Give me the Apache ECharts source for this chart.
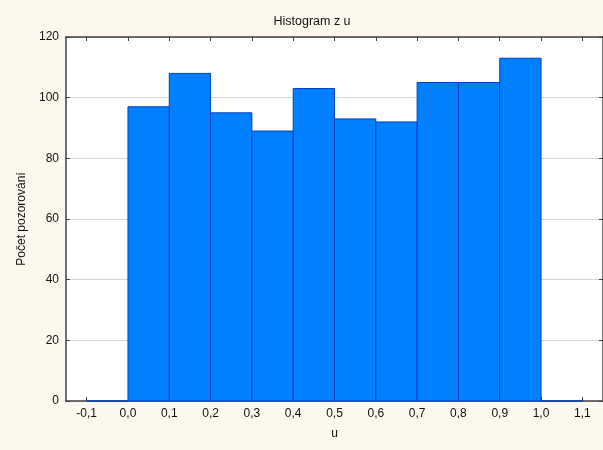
<!DOCTYPE html>
<html>
<head>
<meta charset="utf-8">
<script src="https://cdn.jsdelivr.net/npm/echarts@6/dist/echarts.min.js"></script>
<style>
html,body{margin:0;padding:0;background:#FDF8EE;}
#c{width:603px;height:450px;}
</style>
</head>
<body>
<div id="c"></div>
<script>
var binStarts = [-0.1, 0.0, 0.1, 0.2, 0.3, 0.4, 0.5, 0.6, 0.7, 0.8, 0.9, 1.0];
var binWidth = 0.1;
var counts = [0, 97, 108, 95, 89, 103, 93, 92, 105, 105, 113, 0];
var xTickValues = [-0.1, 0.0, 0.1, 0.2, 0.3, 0.4, 0.5, 0.6, 0.7, 0.8, 0.9, 1.0, 1.1];
var xTickLabels = ['-0,1','0,0','0,1','0,2','0,3','0,4','0,5','0,6','0,7','0,8','0,9','1,0','1,1'];
var yTickValues = [0, 20, 40, 60, 80, 100, 120];

var chart = echarts.init(document.getElementById('c'), null, {renderer: 'canvas'});
var font = 'Liberation Sans, Arial, sans-serif';
function labelFor(v) {
  for (var i = 0; i < xTickValues.length; i++) {
    if (Math.abs(xTickValues[i] - v) < 1e-9) return xTickLabels[i];
  }
  return '';
}
var data = binStarts.map(function (s, i) { return [s, s + binWidth, counts[i]]; });

chart.setOption({
  backgroundColor: '#FDF8EE',
  animation: false,
  textStyle: {fontFamily: font},
  title: {
    text: 'Histogram z u',
    left: 307, top: 10,
    textAlign: 'center',
    textStyle: {fontSize: 12.5, fontWeight: 'normal', color: '#111', fontFamily: font}
  },
  grid: {left: 66, right: 0, top: 37, bottom: 49, show: true, backgroundColor: '#fff', borderWidth: 0},
  xAxis: [{
    type: 'value', min: -0.15, max: 1.15, position: 'bottom',
    name: 'u', nameLocation: 'middle', nameGap: 27,
    nameTextStyle: {fontSize: 12, color: '#111', fontFamily: font},
    axisLine: {show: true, lineStyle: {color: '#404040', width: 1.5}},
    axisTick: {show: true, inside: true, length: 4, customValues: xTickValues, lineStyle: {color: '#404040'}},
    axisLabel: {show: true, customValues: xTickValues, margin: 7, fontSize: 12, color: '#111', fontFamily: font,
      formatter: function (v) { return labelFor(v); }},
    splitLine: {show: false}
  }, {
    type: 'value', min: -0.15, max: 1.15, position: 'top',
    axisLine: {show: true, onZero: false, lineStyle: {color: '#404040', width: 1.5}},
    axisTick: {show: true, inside: true, length: 4, customValues: xTickValues, lineStyle: {color: '#404040'}},
    axisLabel: {show: false},
    splitLine: {show: false}
  }],
  yAxis: [{
    type: 'value', min: 0, max: 120, interval: 20, position: 'left',
    name: 'Počet pozorování', nameLocation: 'middle', nameGap: 37, nameRotate: 90,
    nameTextStyle: {fontSize: 12, color: '#111', fontFamily: font},
    axisLine: {show: true, onZero: false, lineStyle: {color: '#404040', width: 1.5}},
    axisTick: {show: true, inside: true, length: 4, lineStyle: {color: '#404040'}},
    axisLabel: {show: true, margin: 7, fontSize: 12, color: '#111', fontFamily: font},
    splitLine: {show: true, lineStyle: {color: '#d4d4d4', width: 1}}
  }, {
    type: 'value', min: 0, max: 120, interval: 20, position: 'right',
    axisLine: {show: true, onZero: false, lineStyle: {color: '#404040', width: 1.5}},
    axisTick: {show: true, inside: true, length: 4, lineStyle: {color: '#404040'}},
    axisLabel: {show: false},
    splitLine: {show: false}
  }],
  series: [{
    type: 'custom',
    xAxisIndex: 0, yAxisIndex: 0,
    data: data,
    encode: {x: [0, 1], y: 2},
    renderItem: function (params, api) {
      var p0 = api.coord([api.value(0), api.value(2)]);
      var p1 = api.coord([api.value(1), 0]);
      return {
        type: 'rect',
        shape: {x: p0[0], y: p0[1], width: p1[0] - p0[0], height: p1[1] - p0[1]},
        style: {fill: '#0080FF', stroke: '#0040C0', lineWidth: 1}
      };
    }
  }]
});
</script>
</body>
</html>
